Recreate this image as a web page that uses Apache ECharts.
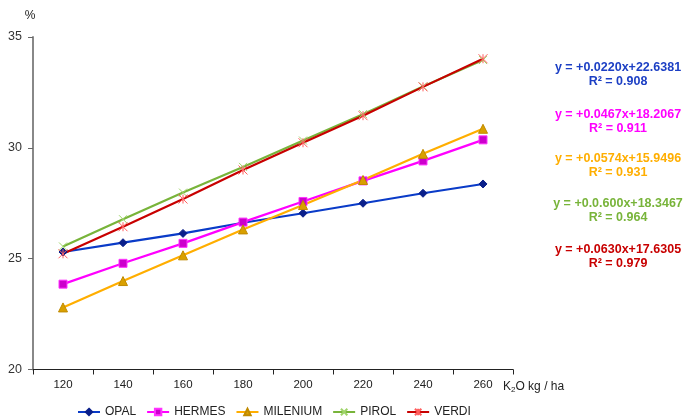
<!DOCTYPE html>
<html>
<head>
<meta charset="utf-8">
<script src="https://cdn.jsdelivr.net/npm/echarts@6/dist/echarts.min.js"></script>
<style>
  html, body { margin: 0; padding: 0; background: #fff; }
  #chart { width: 685px; height: 418px; }
</style>
</head>
<body>
<div id="chart"></div>
<script>
// K2O dose (kg/ha) on the x axis
const doses = ['120', '140', '160', '180', '200', '220', '240', '260'];

// Measured values (%) per variety
const opal     = [25.30, 25.72, 26.14, 26.62, 27.05, 27.50, 27.95, 28.37];
const hermes   = [23.85, 24.79, 25.69, 26.65, 27.58, 28.51, 29.41, 30.36];
const milenium = [22.80, 23.99, 25.15, 26.32, 27.42, 28.55, 29.73, 30.86];
const pirol    = [25.55, 26.78, 27.98, 29.14, 30.33, 31.52, 32.77, 33.96];
const verdi    = [25.22, 26.44, 27.69, 29.00, 30.23, 31.45, 32.75, 34.02];

const names = ['OPAL', 'HERMES', 'MILENIUM', 'PIROL', 'VERDI'];

// Trend line equations and fit quality shown on the right
const equations = ['y = +0.0220x+22.6381', 'y = +0.0467x+18.2067', 'y = +0.0574x+15.9496',
                   'y = +0.0.600x+18.3467', 'y = +0.0630x+17.6305'];
const rSquared = ['R² = 0.908', 'R² = 0.911', 'R² = 0.931', 'R² = 0.964', 'R² = 0.979'];

const yTicks = { min: 20, max: 35, step: 5 };

const lineColors   = ['#0a3bc8', '#ff00ff', '#ffae00', '#78b43a', '#c80000'];
const markerFill   = ['#0a1f8a', '#cc00cc', '#d9a000', '#9fd46a', '#ff6060'];
const markerBorder = ['#0a1f8a', '#ff33ff', '#c08a00', '#9fd46a', '#ff6060'];
const textColors   = ['#1c3fc4', '#ff00ff', '#ffae00', '#78b43a', '#c80000'];

const crossPath = 'path://M0,0L10,10M10,0L0,10';
const starPath  = 'path://M0,0L10,10M10,0L0,10M5,0L5,10';
const symbols = ['diamond', 'rect', 'triangle', crossPath, starPath];
const symbolSizes = [8, 8, 9, 8, 9];

const allData = [opal, hermes, milenium, pirol, verdi];

const series = names.map((n, i) => ({
  name: n,
  type: 'line',
  data: allData[i],
  symbol: symbols[i],
  symbolSize: symbolSizes[i],
  showAllSymbol: true,
  lineStyle: { color: lineColors[i], width: 2.2 },
  itemStyle: {
    color: markerFill[i],
    borderColor: markerBorder[i],
    borderWidth: 1
  },
  emphasis: { disabled: true },
  animation: false
}));

const eqX = 618;
const eqY = [68, 115, 159, 204, 250];
const graphics = [];
equations.forEach((eq, i) => {
  graphics.push({
    type: 'text', x: eqX, y: eqY[i],
    style: { text: eq, fill: textColors[i], font: 'bold 12.5px Arial, "Liberation Sans", sans-serif',
             textAlign: 'center', textVerticalAlign: 'middle' }
  });
  graphics.push({
    type: 'text', x: eqX, y: eqY[i] + 14,
    style: { text: rSquared[i], fill: textColors[i], font: 'bold 12.5px Arial, "Liberation Sans", sans-serif',
             textAlign: 'center', textVerticalAlign: 'middle' }
  });
});
// Unit labels
graphics.push({
  type: 'text', x: 30, y: 16,
  style: { text: '%', fill: '#222', font: '12px Arial, "Liberation Sans", sans-serif',
           textAlign: 'center', textVerticalAlign: 'middle' }
});
graphics.push({
  type: 'text', x: 503, y: 380,
  style: {
    text: '{a|K}{s|2}{a|O kg / ha}',
    rich: {
      a: { fontSize: 12, fontFamily: 'Arial, "Liberation Sans", sans-serif', fill: '#222', color: '#222' },
      s: { fontSize: 8, fontFamily: 'Arial, "Liberation Sans", sans-serif', fill: '#222', color: '#222', padding: [6, 0, 0, 0] }
    }
  }
});

const chart = echarts.init(document.getElementById('chart'), null, { renderer: 'canvas' });
chart.setOption({
  backgroundColor: '#fff',
  animation: false,
  grid: { left: 33, right: 172, top: 37, bottom: 48.5, containLabel: false },
  legend: {
    data: names,
    left: 72,
    top: 401,
    itemWidth: 22,
    itemHeight: 8,
    itemGap: 10,
    textStyle: { fontSize: 12, color: '#222', fontFamily: 'Arial, "Liberation Sans", sans-serif' }
  },
  xAxis: {
    type: 'category',
    data: doses,
    boundaryGap: true,
    axisLine: { lineStyle: { color: '#222', width: 1 } },
    axisTick: { show: true, length: 5, lineStyle: { color: '#222' } },
    axisLabel: { fontSize: 11.5, color: '#222', margin: 9, fontFamily: 'Arial, "Liberation Sans", sans-serif' },
    splitLine: { show: false }
  },
  yAxis: {
    type: 'value',
    min: yTicks.min,
    max: yTicks.max,
    interval: yTicks.step,
    axisLine: { show: true, lineStyle: { color: '#888', width: 2 } },
    axisTick: { show: true, length: 5, lineStyle: { color: '#666' } },
    axisLabel: { fontSize: 12.5, color: '#333', margin: 11, fontFamily: 'Arial, "Liberation Sans", sans-serif' },
    splitLine: { show: false }
  },
  graphic: graphics,
  series: series
});
</script>
</body>
</html>
